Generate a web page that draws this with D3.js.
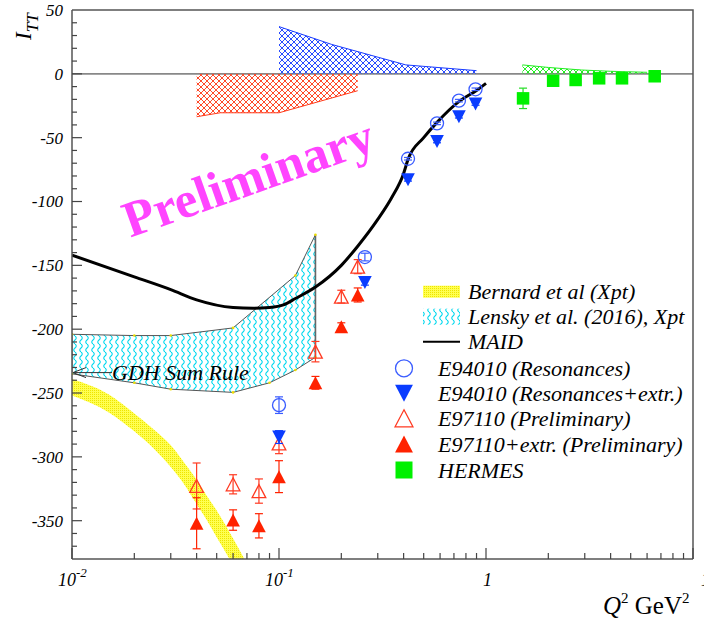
<!DOCTYPE html>
<html>
<head>
  <style>
    body { margin: 0; background: #fff; }
    svg text { font-family: "Liberation Serif", "Times New Roman", "DejaVu Serif", serif; }
  </style>
  <title>I_TT vs Q2</title>
</head>
<body>
<script src="https://cdn.jsdelivr.net/npm/d3@7"></script>
<script>
// ---- data ----
// MAID curve
var maidQ2 = [0.01, 0.02, 0.03, 0.04, 0.06, 0.075, 0.09, 0.105, 0.12, 0.15, 0.2, 0.24, 0.3, 0.35, 0.4, 0.42, 0.5, 0.58, 0.75, 0.9, 1.0];
var maidVal = [-142, -159, -169, -177, -183, -183.6, -183, -181, -176, -167, -150, -135, -114, -97, -78, -67, -50, -38, -21, -13, -7.5];

// Lensky et al. (2016) band
var lenskyUpQ2 = [0.01, 0.02, 0.03, 0.06, 0.12, 0.15];
var lenskyUp = [-204, -205, -205, -199, -158, -126];
var lenskyLoQ2 = [0.01, 0.02, 0.03, 0.06, 0.09, 0.12, 0.15];
var lenskyLo = [-235, -242, -247, -249.5, -242, -232, -222];

// Bernard et al band
var bernardQ2 = [0.01, 0.015, 0.02, 0.025, 0.03, 0.035, 0.04, 0.045, 0.05, 0.06, 0.07, 0.08];
var bernardUp = [-239, -251, -266, -279, -291, -305, -318, -331, -342, -364, -384, -404];
var bernardLo = [-252, -265, -280, -294, -308, -322, -337, -350, -363, -385, -406, -426];

// systematic error bands (hatched, from zero)
var sysRedQ2 = [0.04, 0.052, 0.1, 0.24];
var sysRed = [-33.6, -30.5, -30.5, -13.2];
var sysBlueQ2 = [0.1, 0.18, 0.41, 0.9];
var sysBlue = [37, 23, 7, 2.5];
var sysGreenQ2 = [1.5, 2, 2.9, 4, 6];
var sysGreen = [7, 5, 3, 2, 1.2];

// data points
var e94Q2 = [0.1, 0.26, 0.42, 0.58, 0.74, 0.89];
var e94Res = [-259.5, -143.5, -66.5, -38.8, -21.0, -12.1];
var e94ResErr = [6.5, 3, 1, 1, 1, 1];
var e94Ext = [-284.5, -163.5, -83, -53, -33.6, -23.6];
var e94ExtErr = [5, 2, 1, 1, 1, 1];
var e97Q2 = [0.04, 0.06, 0.08, 0.1, 0.15, 0.2, 0.24];
var e97 = [-322.8, -321.5, -326.8, -289.5, -217.6, -174.5, -151];
var e97Err = [18, 7.5, 9.5, 8, 8, 5, 5.5];
var e97Ext = [-352, -349.5, -354, -315.5, -242, -198, -173.2];
var e97ExtErr = [20, 8, 9.5, 12.5, 5, 3, 5.5];
var hermesQ2 = [1.51, 2.11, 2.71, 3.52, 4.54, 6.53];
var hermes = [-19.2, -5.4, -4.8, -3.5, -3.5, -1.9];
var hermesErr = [8, 1, 1, 1, 1, 1];

var yTicks = [50, 0, -50, -100, -150, -200, -250, -300, -350];
var xTicks = [0.01, 0.1, 1, 10];
var xTickBase = ["10", "10", "1", "10"];
var xTickExp = ["-2", "-1", "", ""];

var legendNames = ["Bernard et al (Xpt)", "Lensky et al. (2016), Xpt", "MAID",
  "E94010 (Resonances)", "E94010 (Resonances+extr.)", "E97110 (Preliminary)",
  "E97110+extr. (Preliminary)", "HERMES"];

// ---- layout ----
var width = 704, height = 624;
var padL = 72, padR = 693, padT = 10, padB = 559;

var x = d3.scaleLog().domain([0.01, 10]).range([padL, padR]);
var y = d3.scaleLinear().domain([-380, 50]).range([padB, padT]);

var svg = d3.select("body").append("svg")
  .attr("width", width)
  .attr("height", height);

var defs = svg.append("defs");
defs.append("clipPath").attr("id", "plotclip").append("rect")
  .attr("x", padL).attr("y", padT).attr("width", padR - padL).attr("height", padB - padT);

function hatch(id, color) {
  var p = defs.append("pattern").attr("id", id)
    .attr("patternUnits", "userSpaceOnUse").attr("width", 6).attr("height", 6);
  p.append("path").attr("d", "M0,0L6,6M6,0L0,6M-1,5L1,7M5,-1L7,1")
    .attr("stroke", color).attr("stroke-width", 1).attr("fill", "none");
}
hatch("hRed", "#ff4a2a");
hatch("hBlue", "#2a4cff");
hatch("hGreen", "#22f022");

var wave = defs.append("pattern").attr("id", "wave")
  .attr("patternUnits", "userSpaceOnUse").attr("width", 6).attr("height", 8);
wave.append("path").attr("d", "M3,0Q5.5,2 3,4Q0.5,6 3,8")
  .attr("stroke", "#00d8ee").attr("stroke-width", 1.1).attr("fill", "none");

var dots = defs.append("pattern").attr("id", "dots")
  .attr("patternUnits", "userSpaceOnUse").attr("width", 2).attr("height", 2);
dots.append("rect").attr("width", 2).attr("height", 2).attr("fill", "#ffff50");
dots.append("rect").attr("width", 1).attr("height", 1).attr("fill", "#eee400");

var plot = svg.append("g").attr("clip-path", "url(#plotclip)");

// zero line
plot.append("line")
  .attr("x1", padL).attr("x2", padR).attr("y1", y(0)).attr("y2", y(0))
  .attr("stroke", "#888").attr("stroke-width", 1.6);

// hatched systematic bands
function sysBand(q2, vals, fillId, color) {
  var pts = q2.map(function(q, i) { return [q, vals[i]]; });
  var area = d3.area().x(function(d) { return x(d[0]); })
    .y0(y(0)).y1(function(d) { return y(d[1]); });
  plot.append("path").datum(pts).attr("d", area).attr("fill", "url(#" + fillId + ")");
  plot.append("path").datum(pts)
    .attr("d", d3.line().x(function(d) { return x(d[0]); }).y(function(d) { return y(d[1]); }))
    .attr("fill", "none").attr("stroke", color).attr("stroke-width", 1);
}
sysBand(sysRedQ2, sysRed, "hRed", "#ff3a1a");
sysBand(sysBlueQ2, sysBlue, "hBlue", "#1a3cff");
sysBand(sysGreenQ2, sysGreen, "hGreen", "#22ee22");

// Bernard band
var bern = bernardQ2.map(function(q, i) { return [q, bernardUp[i], bernardLo[i]]; });
plot.append("path").datum(bern)
  .attr("d", d3.area().curve(d3.curveMonotoneX)
    .x(function(d) { return x(d[0]); })
    .y0(function(d) { return y(d[2]); })
    .y1(function(d) { return y(d[1]); }))
  .attr("fill", "url(#dots)");

// Lensky band
var lUp = lenskyUpQ2.map(function(q, i) { return [x(q), y(lenskyUp[i])]; });
var lLo = lenskyLoQ2.map(function(q, i) { return [x(q), y(lenskyLo[i])]; });
var lPoly = lUp.concat(lLo.slice().reverse());
plot.append("path")
  .attr("d", "M" + lPoly.join("L") + "Z")
  .attr("fill", "url(#wave)")
  .attr("stroke", "#555").attr("stroke-width", 1);
plot.append("line")
  .attr("x1", x(0.15)).attr("x2", x(0.15))
  .attr("y1", y(lenskyUp[lenskyUp.length - 1])).attr("y2", y(lenskyLo[lenskyLo.length - 1]))
  .attr("stroke", "#666").attr("stroke-width", 1.6);
plot.selectAll("circle.vtx").data(lUp.concat(lLo)).enter().append("circle")
  .attr("class", "vtx").attr("cx", function(d) { return d[0]; }).attr("cy", function(d) { return d[1]; })
  .attr("r", 1.3).attr("fill", "#eedd00");

// GDH sum rule arrow
var gdhY = y(-234);
plot.append("path")
  .attr("d", "M" + (padL + 40) + "," + gdhY + "L" + (padL + 1) + "," + gdhY +
    "M" + (padL + 14) + "," + (gdhY - 5) + "L" + (padL + 1) + "," + gdhY + "L" + (padL + 14) + "," + (gdhY + 5))
  .attr("stroke", "#333").attr("stroke-width", 1).attr("fill", "none");
svg.append("text").attr("x", 112).attr("y", gdhY + 7)
  .style("font-size", "22px").style("font-style", "italic").text("GDH Sum Rule");

// MAID line
var maidLine = d3.line().curve(d3.curveMonotoneX)
  .x(function(d, i) { return x(maidQ2[i]); })
  .y(function(d) { return y(d); });
plot.append("path").datum(maidVal).attr("d", maidLine)
  .attr("fill", "none").attr("stroke", "#000").attr("stroke-width", 3);

// markers
function triPath(w, h, down) {
  return down
    ? "M" + (-w / 2) + "," + (-h / 2) + "L" + (w / 2) + "," + (-h / 2) + "L0," + (h / 2) + "Z"
    : "M0," + (-h / 2) + "L" + (w / 2) + "," + (h / 2) + "L" + (-w / 2) + "," + (h / 2) + "Z";
}
function drawMarker(g, kind, size) {
  if (kind === "circle") {
    g.append("circle").attr("r", size / 2).attr("fill", "none")
      .attr("stroke", "#3a5cff").attr("stroke-width", 1.3);
  } else if (kind === "down") {
    g.append("path").attr("d", triPath(size * 1.05, size, true)).attr("fill", "#0a3cff");
  } else if (kind === "upOpen") {
    g.append("path").attr("d", triPath(size * 1.05, size, false)).attr("fill", "none")
      .attr("stroke", "#ff3a22").attr("stroke-width", 1.3);
  } else if (kind === "up") {
    g.append("path").attr("d", triPath(size * 1.05, size, false)).attr("fill", "#ff2200");
  } else if (kind === "square") {
    g.append("rect").attr("x", -size / 2).attr("y", -size / 2)
      .attr("width", size).attr("height", size).attr("fill", "#00f000");
  }
}
function series(q2, vals, errs, kind, color, size) {
  q2.forEach(function(q, i) {
    var cx = x(q), cy = y(vals[i]);
    var y1 = y(vals[i] + errs[i]), y2 = y(vals[i] - errs[i]);
    var eb = plot.append("g").attr("stroke", color).attr("stroke-width", 1.2);
    eb.append("line").attr("x1", cx).attr("x2", cx).attr("y1", y1).attr("y2", y2);
    eb.append("line").attr("x1", cx - 4).attr("x2", cx + 4).attr("y1", y1).attr("y2", y1);
    eb.append("line").attr("x1", cx - 4).attr("x2", cx + 4).attr("y1", y2).attr("y2", y2);
    var g = plot.append("g").attr("transform", "translate(" + cx + "," + cy + ")");
    drawMarker(g, kind, size);
  });
}
series(e97Q2, e97, e97Err, "upOpen", "#ff3a22", 13);
series(e97Q2, e97Ext, e97ExtErr, "up", "#ff2200", 13);
series(e94Q2, e94Res, e94ResErr, "circle", "#3a5cff", 13);
series(e94Q2, e94Ext, e94ExtErr, "down", "#0a3cff", 13);
series(hermesQ2, hermes, hermesErr, "square", "#22dd22", 12.5);

// frame
svg.append("path")
  .attr("d", "M" + padL + "," + padT + "L" + padR + "," + padT + "L" + padR + "," + padB)
  .attr("fill", "none").attr("stroke", "#555").attr("stroke-width", 1.5);

// y axis
var yAxis = svg.append("g");
yAxis.append("line").attr("x1", padL).attr("x2", padL).attr("y1", padT).attr("y2", padB)
  .attr("stroke", "#555").attr("stroke-width", 1.5);
yAxis.selectAll("line.minor").data(d3.range(-370, 50, 10)).enter().append("line")
  .attr("x1", padL).attr("x2", function(d) { return d % 50 === 0 ? padL + 10 : padL + 5; })
  .attr("y1", function(d) { return y(d); }).attr("y2", function(d) { return y(d); })
  .attr("stroke", "#444").attr("stroke-width", 1.2);
yAxis.selectAll("text").data(yTicks).enter().append("text")
  .attr("x", 63).attr("y", function(d) { return y(d); }).attr("dy", "0.35em")
  .attr("text-anchor", "end").style("font-size", "17px").style("font-style", "italic")
  .text(function(d) { return d; });

// x axis
var xAxis = svg.append("g");
xAxis.append("line").attr("x1", padL).attr("x2", padR).attr("y1", padB).attr("y2", padB)
  .attr("stroke", "#555").attr("stroke-width", 1.5);
var minorX = [];
[0.01, 0.1, 1].forEach(function(dec) {
  for (var k = 1; k < 10; k++) minorX.push(dec * k);
});
minorX.push(10);
xAxis.selectAll("line.tick").data(minorX).enter().append("line")
  .attr("x1", function(d) { return x(d); }).attr("x2", function(d) { return x(d); })
  .attr("y1", padB).attr("y2", function(d) {
    var l = Math.log10(d);
    return Math.abs(l - Math.round(l)) < 1e-9 ? padB - 11 : padB - 6;
  })
  .attr("stroke", "#444").attr("stroke-width", 1.2);
var xl = xAxis.selectAll("text").data(xTicks).enter().append("text")
  .attr("x", function(d, i) { return i === 3 ? x(d) + 8 : x(d) - (xTickExp[i] ? 14 : 3); })
  .attr("y", 586).style("font-size", "18px").style("font-style", "italic");
xl.append("tspan").text(function(d, i) { return xTickBase[i]; });
xl.append("tspan").attr("dy", -9).style("font-size", "13px").text(function(d, i) { return xTickExp[i]; });

// axis titles
var xt = svg.append("text").attr("x", 603).attr("y", 614).style("font-size", "25px");
xt.append("tspan").style("font-style", "italic").text("Q");
xt.append("tspan").attr("dy", -11).style("font-size", "15px").text("2");
xt.append("tspan").attr("dy", 11).text(" GeV");
xt.append("tspan").attr("dy", -11).style("font-size", "15px").text("2");

var yt = svg.append("text").attr("transform", "translate(31,40) rotate(-90)")
  .style("font-size", "23px").style("font-style", "italic");
yt.append("tspan").text("I");
yt.append("tspan").attr("dy", 7).style("font-size", "17px").text("TT");

// Preliminary watermark
svg.append("text").attr("transform", "translate(254,194) rotate(-19.5)")
  .attr("text-anchor", "middle").style("font-size", "51px").style("font-weight", "bold")
  .attr("fill", "#ff44ff").text("Preliminary");

// legend
var legY = [291.7, 316.7, 341.7, 368.3, 393.3, 418.3, 444, 470];
var legKinds = ["bern", "lensky", "maid", "circle", "down", "upOpen", "up", "square"];
var leg = svg.append("g");
legKinds.forEach(function(k, i) {
  var ly = legY[i];
  if (k === "bern") {
    leg.append("rect").attr("x", 423).attr("y", ly - 6).attr("width", 37).attr("height", 12).attr("fill", "url(#dots)");
  } else if (k === "lensky") {
    leg.append("rect").attr("x", 423).attr("y", ly - 8).attr("width", 37).attr("height", 16).attr("fill", "url(#wave)");
  } else if (k === "maid") {
    leg.append("line").attr("x1", 423).attr("x2", 460).attr("y1", ly).attr("y2", ly)
      .attr("stroke", "#000").attr("stroke-width", 2);
  } else {
    var g = leg.append("g").attr("transform", "translate(404," + ly + ")");
    drawMarker(g, k, 17);
  }
  leg.append("text").attr("x", i < 3 ? 468 : 438).attr("y", ly).attr("dy", "0.35em")
    .style("font-size", "22px").style("font-style", "italic").text(legendNames[i]);
});
</script>
</body>
</html>
